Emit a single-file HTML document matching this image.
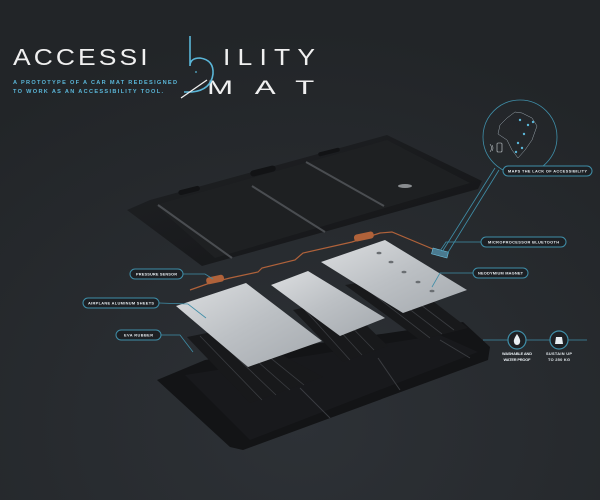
<!DOCTYPE html>
<html><head><meta charset="utf-8"><style>
html,body{margin:0;padding:0;width:600px;height:500px;overflow:hidden;background:#24272b}
svg{display:block}
.t{font-family:"Liberation Sans",sans-serif}
.lb{font-family:"Liberation Sans",sans-serif;font-size:3.9px;font-weight:bold;fill:#e8eef2}
.pill{fill:#1d2024;stroke:#3f8ea8;stroke-width:1}
.ln{stroke:#3f8ea8;stroke-width:0.8;fill:none}
</style></head><body>
<svg width="600" height="500" viewBox="0 0 600 500" xmlns="http://www.w3.org/2000/svg">
<defs>
<radialGradient id="bg" cx="0.5" cy="0.85" r="0.8">
<stop offset="0" stop-color="#2d3136"/><stop offset="1" stop-color="#222528"/>
</radialGradient>
<linearGradient id="al" x1="0" y1="0" x2="1" y2="1">
<stop offset="0" stop-color="#dcdee0"/><stop offset="0.5" stop-color="#bcc0c4"/><stop offset="1" stop-color="#a4a9ae"/>
</linearGradient>
<linearGradient id="mat" x1="0" y1="0" x2="1" y2="1">
<stop offset="0" stop-color="#202225"/><stop offset="1" stop-color="#131416"/>
</linearGradient>
</defs>
<rect width="600" height="500" fill="url(#bg)"/>

<!-- title -->
<g transform="translate(13 65) scale(1.15 1)">
<text class="t" x="0" y="0" font-size="23" fill="#f0f0f0" textLength="117" lengthAdjust="spacing">ACCESSI</text>
</g>
<g transform="translate(223 65) scale(1.15 1)">
<text class="t" x="0" y="0" font-size="23" fill="#f0f0f0" textLength="80" lengthAdjust="spacing">ILITY</text>
</g>
<g transform="translate(207 94) scale(1.65 1)">
<text class="t" x="0" y="0" font-size="19" fill="#f0f0f0" textLength="65" lengthAdjust="spacing">MAT</text>
</g>
<path d="M190 36 L190 66 Q190 58 200 58 Q214 60 213 74 Q211 90 192 92 L184 92" stroke="#5ab6d8" stroke-width="1.6" fill="none"/>
<circle cx="196" cy="72" r="0.9" fill="#5ab6d8"/>
<path d="M181 98 L207 80" stroke="#f0f0f0" stroke-width="1.3"/>
<text class="t" x="13" y="84" font-size="5.6" font-weight="bold" fill="#5ab6d8" textLength="164" lengthAdjust="spacing">A PROTOTYPE OF A CAR MAT REDESIGNED</text>
<text class="t" x="13" y="93" font-size="5.6" font-weight="bold" fill="#5ab6d8" textLength="150" lengthAdjust="spacing">TO WORK AS AN ACCESSIBILITY TOOL.</text>

<!-- top mat -->
<polygon points="127,210 150,200 387,135 482,181 478,189 202,266" fill="url(#mat)"/>
<polygon points="155,205 387,140 470,183 215,258" fill="#1e2022"/>
<path d="M158 205 L232 258" stroke="#4a4d51" stroke-width="2"/>
<path d="M252 186 L325 232" stroke="#4a4d51" stroke-width="2"/>
<path d="M306 162 L384 206" stroke="#4a4d51" stroke-width="2"/>
<rect x="178" y="188" width="22" height="5" rx="2.5" fill="#121315" transform="rotate(-14 189 190)"/>
<rect x="250" y="168" width="26" height="6" rx="3" fill="#121315" transform="rotate(-14 263 171)"/>
<rect x="318" y="150" width="22" height="4" rx="2" fill="#121315" transform="rotate(-14 329 152)"/>
<ellipse cx="405" cy="186" rx="7" ry="2" fill="#8a8d90"/>

<!-- bottom mat -->
<polygon points="157,380 205,360 463,322 490,347 488,360 243,450 230,447" fill="#131416"/>
<polygon points="185,375 440,335 478,352 250,440" fill="#18191c"/>
<path d="M300 388 L330 418 M378 358 L400 390 M440 340 L470 358" stroke="#3a3c40" stroke-width="1"/>

<!-- EVA strips -->
<polygon points="187,337 232,328 323,377 250,403" fill="#18191b"/>
<path d="M200 336 L262 400 M212 334 L276 395 M224 332 L290 390 M236 330 L304 385" stroke="#3a3c40" stroke-width="0.8"/>
<polygon points="293,310 340,300 388,346 343,362" fill="#18191b"/>
<path d="M305 310 L350 360 M318 307 L362 355 M330 305 L374 350" stroke="#3a3c40" stroke-width="0.8"/>
<polygon points="345,285 400,276 468,328 420,340" fill="#18191b"/>
<path d="M360 284 L430 338 M374 282 L442 334 M388 280 L454 330" stroke="#3a3c40" stroke-width="0.8"/>

<!-- wire -->
<path d="M190 290 L210 283 L230 278 L258 272 L262 268 L295 260 L303 253 L352 242 L380 233 L392 232 L440 252" stroke="#b0623a" stroke-width="1.2" fill="none"/>
<rect x="206" y="276" width="18" height="7" rx="3" fill="#b0623a" transform="rotate(-12 215 279)"/>
<rect x="354" y="233" width="20" height="7" rx="3" fill="#b0623a" transform="rotate(-12 364 237)"/>
<rect x="432" y="250" width="16" height="6" fill="#4a7a90" stroke="#6fc0dc" stroke-width="0.6" transform="rotate(15 440 253)"/>

<!-- sheets -->
<polygon points="176,306 246,283 322,341 248,367" fill="url(#al)"/>
<polygon points="271,285 308,271 385,318 340,336" fill="url(#al)"/>
<polygon points="321,262 385,240 467,290 403,313" fill="url(#al)"/>
<g fill="#6a6e72">
<ellipse cx="379" cy="253" rx="2.5" ry="1.3"/><ellipse cx="391" cy="262" rx="2.5" ry="1.3"/>
<ellipse cx="404" cy="272" rx="2.5" ry="1.3"/><ellipse cx="418" cy="282" rx="2.5" ry="1.3"/>
<ellipse cx="432" cy="291" rx="2.5" ry="1.3"/>
</g>

<!-- left labels -->
<rect class="pill" x="130" y="269" width="53" height="10" rx="5"/>
<text class="lb" x="136" y="275.4" textLength="41" lengthAdjust="spacing">PRESSURE SENSOR</text>
<path class="ln" d="M183 274 L205 274 L213 279"/>
<rect class="pill" x="83" y="298" width="76" height="10" rx="5"/>
<text class="lb" x="88" y="304.4" textLength="66" lengthAdjust="spacing">AIRPLANE ALUMINUM SHEETS</text>
<path class="ln" d="M159 303 L188 304 L206 318"/>
<rect class="pill" x="116" y="330" width="45" height="10" rx="5"/>
<text class="lb" x="124" y="336.4" textLength="29" lengthAdjust="spacing">EVA RUBBER</text>
<path class="ln" d="M161 335 L180 335 L193 352"/>

<!-- right labels -->
<circle cx="520" cy="137" r="37" class="ln" stroke-width="1"/>
<path d="M500 125 L507 118 L515 112 L522 113 L532 118 L537 126 L532 140 L525 150 L518 158 L512 150 L507 140 L498 134 Z" stroke="#9aa5ad" stroke-width="0.5" fill="none"/>
<g fill="#5ab6d8"><circle cx="520" cy="120" r="1.2"/><circle cx="528" cy="125" r="1.2"/><circle cx="533" cy="122" r="1.2"/><circle cx="524" cy="134" r="1.2"/><circle cx="518" cy="143" r="1.2"/><circle cx="522" cy="148" r="1.2"/><circle cx="516" cy="152" r="1.2"/></g>
<rect x="497" y="143" width="5" height="9" rx="1" fill="none" stroke="#cfd6da" stroke-width="0.6"/>
<path d="M492 145 Q494 148 492 151 M490 144 Q493 148 490 152" stroke="#cfd6da" stroke-width="0.5" fill="none"/>
<rect class="pill" x="503" y="166" width="89" height="10" rx="5"/>
<text class="lb" x="508" y="172.4" textLength="79" lengthAdjust="spacing">MAPS THE LACK OF ACCESSIBILITY</text>
<path class="ln" d="M495 168 L442 252 M499 170 L447 254"/>
<rect class="pill" x="481" y="237" width="85" height="10" rx="5"/>
<text class="lb" x="488" y="243.4" textLength="71" lengthAdjust="spacing">MICROPROCESSOR BLUETOOTH</text>
<path class="ln" d="M481 242 L446 242 L440 251"/>
<rect class="pill" x="473" y="268" width="55" height="10" rx="5"/>
<text class="lb" x="478" y="274.4" textLength="45" lengthAdjust="spacing">NEODYMIUM MAGNET</text>
<path class="ln" d="M473 273 L440 273 L432 287"/>

<!-- bottom right icons -->
<path class="ln" d="M483 340 L587 340" stroke-width="1"/>
<circle cx="517" cy="340" r="9" fill="#1d2024" stroke="#3f8ea8" stroke-width="1.2"/>
<circle cx="559" cy="340" r="9" fill="#1d2024" stroke="#3f8ea8" stroke-width="1.2"/>
<path d="M517 334 Q513 340 514 342 A3 3 0 0 0 520 342 Q521 340 517 334 Z" fill="#e8eef2"/>
<path d="M555 344 L556 337 L562 337 L563 344 Z" fill="#e8eef2"/>
<text class="lb" x="517" y="355" text-anchor="middle" textLength="30" lengthAdjust="spacing">WASHABLE AND</text>
<text class="lb" x="517" y="361" text-anchor="middle" textLength="27" lengthAdjust="spacing">WATER PROOF</text>
<text class="lb" x="559" y="355" text-anchor="middle" textLength="26" lengthAdjust="spacing">SUSTAIN UP</text>
<text class="lb" x="559" y="361" text-anchor="middle" textLength="22" lengthAdjust="spacing">TO 250 KG</text>
</svg>
</body></html>
